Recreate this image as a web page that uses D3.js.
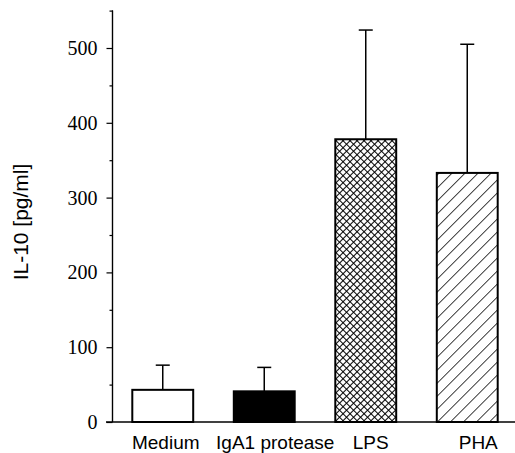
<!DOCTYPE html>
<html>
<head>
<meta charset="utf-8">
<script src="https://cdn.jsdelivr.net/npm/d3@7"></script>
<style>
  body { margin: 0; background: #fff; }
</style>
</head>
<body>
<svg width="515" height="453"></svg>
<script>
const svg = d3.select('svg');

// data
const categories = ['Medium', 'IgA1 protease', 'LPS', 'PHA'];
const means = [43, 41, 378, 333];
const errors = [33, 32, 146, 172];   // upper SD
const yTicks = [0, 100, 200, 300, 400, 500];

// label nudges, the original labels sit a bit right of the bars
const labelShift = [3, 11, 5, 11];
const fills = ['#fff', '#000', 'url(#cross)', 'url(#diag)'];

const x = d3.scaleBand()
  .domain(categories)
  .range([112, 518])
  .paddingInner(0.4)
  .paddingOuter(0.2);

const y = d3.scaleLinear()
  .domain([0, 550])
  .range([422, 10.6]);

const defs = svg.append('defs');
defs.append('pattern')
    .attr('id', 'cross')
    .attr('patternUnits', 'userSpaceOnUse')
    .attr('width', 4.95).attr('height', 4.95)
    .attr('patternTransform', 'rotate(45)')
  .call(p => {
    p.append('rect').attr('width', 4.95).attr('height', 4.95).attr('fill', '#fff');
    p.append('path').attr('d', 'M0,0H4.95M0,0V4.95')
      .attr('stroke', '#000').attr('stroke-width', 2.1);
  });
defs.append('pattern')
    .attr('id', 'diag')
    .attr('patternUnits', 'userSpaceOnUse')
    .attr('width', 9.2).attr('height', 9.2)
    .attr('patternTransform', 'rotate(45)')
  .call(p => {
    p.append('rect').attr('width', 9.2).attr('height', 9.2).attr('fill', '#fff');
    p.append('path').attr('d', 'M0,0V9.2')
      .attr('stroke', '#000').attr('stroke-width', 1.5);
  });

// y axis: major ticks with labels, minor every 50
const yAxis = d3.axisLeft(y)
  .tickValues(yTicks)
  .tickSize(6)
  .tickPadding(9)
  .tickFormat(d3.format('d'));
const yMinor = d3.axisLeft(y)
  .tickValues(d3.range(50, 600, 100))
  .tickSize(3)
  .tickFormat('');

const axisG = svg.append('g')
  .attr('transform', `translate(${x.range()[0] + 0.5},0)`);
axisG.call(yAxis);
axisG.append('g').call(yMinor);
axisG.selectAll('.domain').attr('d', `M0,${y(550)}V${y(0)}`).attr('stroke-width', 1.2);
axisG.selectAll('.tick line').attr('stroke-width', 1.2);
axisG.selectAll('.tick text')
  .attr('font-family', '"Liberation Serif", "Times New Roman", serif')
  .attr('font-size', 20)
  .attr('fill', '#000');

// baseline
svg.append('line')
  .attr('x1', x.range()[0] - 6).attr('x2', 515)
  .attr('y1', y(0)).attr('y2', y(0))
  .attr('stroke', '#000').attr('stroke-width', 1.4);

const bars = svg.append('g')
  .selectAll('g.bar')
  .data(categories)
  .join('g')
    .attr('class', 'bar');

// error bars first so the bar top covers the line foot
bars.append('line')
  .attr('x1', d => x(d) + x.bandwidth() / 2)
  .attr('x2', d => x(d) + x.bandwidth() / 2)
  .attr('y1', (d, i) => y(means[i]))
  .attr('y2', (d, i) => y(means[i] + errors[i]))
  .attr('stroke', '#000').attr('stroke-width', 1.5);
bars.append('line')
  .attr('x1', d => x(d) + x.bandwidth() / 2 - 7)
  .attr('x2', d => x(d) + x.bandwidth() / 2 + 7)
  .attr('y1', (d, i) => y(means[i] + errors[i]))
  .attr('y2', (d, i) => y(means[i] + errors[i]))
  .attr('stroke', '#000').attr('stroke-width', 1.5);

bars.append('rect')
  .attr('x', d => x(d))
  .attr('width', x.bandwidth())
  .attr('y', (d, i) => y(means[i]))
  .attr('height', (d, i) => y(0) - y(means[i]))
  .attr('fill', (d, i) => fills[i])
  .attr('stroke', '#000')
  .attr('stroke-width', 2);

// category labels
svg.append('g')
  .selectAll('text')
  .data(categories)
  .join('text')
    .attr('x', (d, i) => x(d) + x.bandwidth() / 2 + labelShift[i])
    .attr('y', 449)
    .attr('text-anchor', 'middle')
    .attr('font-family', '"Liberation Sans", Arial, sans-serif')
    .attr('font-size', 19)
    .text(d => d);

// y title
svg.append('text')
  .attr('transform', 'translate(28,222) rotate(-90)')
  .attr('text-anchor', 'middle')
  .attr('font-family', '"Liberation Sans", Arial, sans-serif')
  .attr('font-size', 21)
  .text('IL-10 [pg/ml]');
</script>
</body>
</html>
